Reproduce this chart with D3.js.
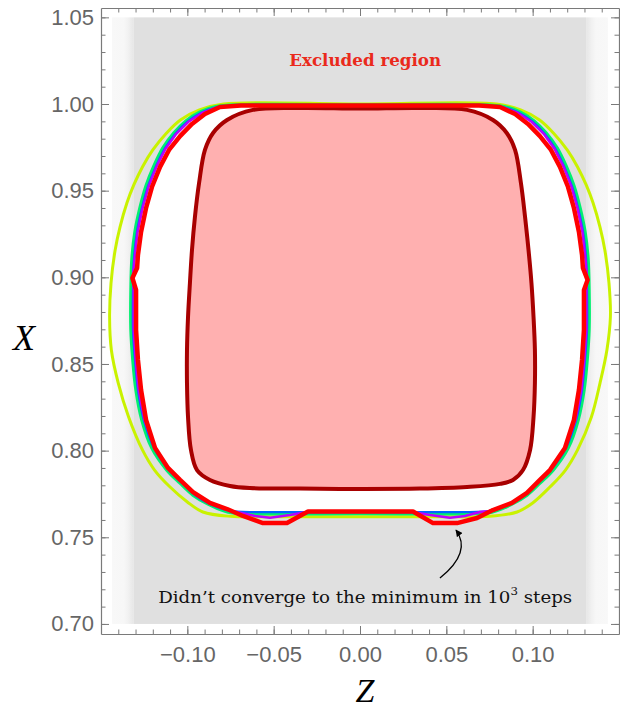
<!DOCTYPE html>
<html>
<head>
<meta charset="utf-8">
<script src="https://cdn.jsdelivr.net/npm/d3@7"></script>
<style>
  body { margin: 0; background: #fff; }
  svg { display: block; }
</style>
</head>
<body>
<div id="chart"></div>
<script>
// axis ticks
const zTicks = [-0.10, -0.05, 0.00, 0.05, 0.10];
const xTicks = [0.70, 0.75, 0.80, 0.85, 0.90, 0.95, 1.00, 1.05];
const zMinor = d3.range(-14, 15).map(d => d / 100);
const xMinor = d3.range(70, 106).map(d => d / 100);

// excluded (gray) band and its soft edges
const excludedZ = [-0.131, 0.131];
const excludedX = [0.70, 1.05];
const fadeZ = [-0.1436, 0.1436];

// boundary curves, [Z, X]
const yellowCurve = [[-0.079,1.000],[0,1.000],[0.079,1.000],[0.093,0.9966],[0.104,0.9908],[0.112,0.9833],[0.120,0.9735],[0.126,0.9637],[0.131,0.9533],[0.135,0.9429],[0.139,0.9290],[0.1418,0.9158],[0.1442,0.8967],[0.145,0.8771],[0.143,0.8581],[0.139,0.8390],[0.134,0.8194],[0.126,0.8004],[0.119,0.7888],[0.110,0.7790],[0.100,0.7698],[0.091,0.7646],[0.075,0.7621],[0.046,0.7619],[0,0.7619],[-0.046,0.7619],[-0.075,0.7621],[-0.091,0.7646],[-0.100,0.7704],[-0.110,0.7790],[-0.119,0.7888],[-0.126,0.8004],[-0.134,0.8194],[-0.140,0.8390],[-0.144,0.8581],[-0.145,0.8771],[-0.1442,0.8967],[-0.1418,0.9158],[-0.139,0.9290],[-0.135,0.9429],[-0.131,0.9533],[-0.126,0.9637],[-0.120,0.9735],[-0.112,0.9833],[-0.104,0.9908],[-0.093,0.9966]];

const greenCurve = [[-0.0695,0.9995],[0,0.9995],[0.0695,0.9995],[0.0840,0.9983],[0.0927,0.9954],[0.1008,0.9902],[0.1077,0.9833],[0.1141,0.9746],[0.1193,0.9642],[0.1239,0.9527],[0.1274,0.9400],[0.1303,0.9262],[0.1320,0.9112],[0.1326,0.8927],[0.1326,0.8696],[0.1315,0.8523],[0.1297,0.8350],[0.1263,0.8177],[0.1205,0.8015],[0.1118,0.7888],[0.1042,0.7813],[0.0967,0.7744],[0.0880,0.7692],[0.0764,0.7646],[0.0637,0.7637],[0,0.7637],[-0.0637,0.7637],[-0.0764,0.7646],[-0.0880,0.7692],[-0.0967,0.7744],[-0.1042,0.7813],[-0.1118,0.7888],[-0.1205,0.8015],[-0.1263,0.8177],[-0.1297,0.8350],[-0.1315,0.8523],[-0.1326,0.8696],[-0.1326,0.8927],[-0.1320,0.9112],[-0.1303,0.9262],[-0.1274,0.9400],[-0.1239,0.9527],[-0.1193,0.9642],[-0.1141,0.9746],[-0.1077,0.9833],[-0.1008,0.9902],[-0.0927,0.9954],[-0.0840,0.9983]];

const blueCurve = [[-0.069,0.9993],[0,0.9993],[0.069,0.9993],[0.0835,0.9980],[0.0920,0.9950],[0.1000,0.9898],[0.1068,0.9830],[0.1130,0.9744],[0.1182,0.9640],[0.1228,0.9525],[0.1263,0.9400],[0.1292,0.9262],[0.1309,0.9112],[0.1315,0.8927],[0.1315,0.8696],[0.1303,0.8523],[0.1286,0.8350],[0.1252,0.8177],[0.1193,0.8015],[0.1106,0.7888],[0.1030,0.7813],[0.0956,0.7744],[0.0869,0.7692],[0.0753,0.7652],[0.0637,0.7646],[0,0.7646],[-0.0637,0.7646],[-0.0753,0.7652],[-0.0869,0.7692],[-0.0956,0.7744],[-0.1030,0.7813],[-0.1106,0.7888],[-0.1193,0.8015],[-0.1252,0.8177],[-0.1286,0.8350],[-0.1303,0.8523],[-0.1315,0.8696],[-0.1315,0.8927],[-0.1309,0.9112],[-0.1292,0.9262],[-0.1263,0.9400],[-0.1228,0.9525],[-0.1182,0.9640],[-0.1130,0.9744],[-0.1068,0.9830],[-0.1000,0.9898],[-0.0920,0.9950],[-0.0835,0.9980]];

const purpleCurve = [[-0.069,0.9992],[0,0.9992],[0.069,0.9992],[0.0830,0.9980],[0.0915,0.9948],[0.0995,0.9896],[0.1064,0.9828],[0.1126,0.9742],[0.1178,0.9640],[0.1224,0.9524],[0.1259,0.9400],[0.1288,0.9262],[0.1305,0.9112],[0.1316,0.8990],[0.1311,0.8927],[0.1311,0.8696],[0.1299,0.8523],[0.1282,0.8350],[0.1248,0.8177],[0.1189,0.8015],[0.1102,0.7888],[0.1026,0.7813],[0.0952,0.7744],[0.0865,0.7692],[0.0750,0.7652],[0.0695,0.7646],[0.0608,0.7623],[0.0521,0.7613],[0.0405,0.7629],[0.0307,0.7646],[-0.0307,0.7646],[-0.0405,0.7629],[-0.0521,0.7613],[-0.0608,0.7623],[-0.0712,0.7646],[-0.0750,0.7652],[-0.0865,0.7692],[-0.0952,0.7744],[-0.1026,0.7813],[-0.1102,0.7888],[-0.1189,0.8015],[-0.1248,0.8177],[-0.1282,0.8350],[-0.1299,0.8523],[-0.1311,0.8696],[-0.1311,0.8927],[-0.1316,0.8996],[-0.1305,0.9112],[-0.1288,0.9262],[-0.1259,0.9400],[-0.1224,0.9524],[-0.1178,0.9640],[-0.1126,0.9742],[-0.1064,0.9828],[-0.0995,0.9896],[-0.0915,0.9948],[-0.0830,0.9980]];

const redCurve = [[-0.069,0.9991],[0,0.9991],[0.069,0.9991],[0.0811,0.9983],[0.0898,0.9942],[0.0973,0.9885],[0.1042,0.9815],[0.1106,0.9735],[0.1158,0.9637],[0.1205,0.9521],[0.1239,0.9400],[0.1268,0.9262],[0.1286,0.9129],[0.1291,0.9054],[0.1318,0.8985],[0.1297,0.8927],[0.1297,0.8696],[0.1286,0.8523],[0.1268,0.8350],[0.1239,0.8177],[0.1187,0.8015],[0.1100,0.7888],[0.1042,0.7831],[0.0967,0.7756],[0.0880,0.7698],[0.0770,0.7657],[0.0678,0.7611],[0.0562,0.7582],[0.0423,0.7582],[0.0307,0.7649],[-0.0301,0.7649],[-0.0423,0.7582],[-0.0562,0.7582],[-0.0678,0.7623],[-0.0770,0.7663],[-0.0869,0.7698],[-0.0967,0.7761],[-0.1042,0.7831],[-0.1112,0.7900],[-0.1187,0.8015],[-0.1239,0.8177],[-0.1268,0.8350],[-0.1286,0.8523],[-0.1297,0.8696],[-0.1297,0.8927],[-0.1318,0.8996],[-0.1291,0.9054],[-0.1286,0.9129],[-0.1268,0.9262],[-0.1239,0.9400],[-0.1205,0.9521],[-0.1158,0.9637],[-0.1106,0.9735],[-0.1042,0.9815],[-0.0973,0.9885],[-0.0898,0.9942],[-0.0811,0.9983]];

const darkRedCurve = [[-0.035,0.9977],[0,0.9974],[0.035,0.9977],[0.062,0.9966],[0.077,0.9908],[0.085,0.9833],[0.0898,0.9735],[0.0932,0.9544],[0.0956,0.9348],[0.0976,0.9158],[0.0993,0.8967],[0.1005,0.8771],[0.1013,0.8581],[0.1013,0.8390],[0.1005,0.8194],[0.0985,0.8004],[0.0944,0.7888],[0.0886,0.7831],[0.0811,0.7808],[0.0620,0.7790],[0.0347,0.7781],[0,0.7779],[-0.0347,0.7781],[-0.0637,0.7784],[-0.0753,0.7796],[-0.0869,0.7831],[-0.0944,0.7888],[-0.0979,0.8004],[-0.0996,0.8194],[-0.1002,0.8390],[-0.1002,0.8581],[-0.0996,0.8771],[-0.0985,0.8967],[-0.0973,0.9158],[-0.0956,0.9348],[-0.0932,0.9544],[-0.0898,0.9735],[-0.0851,0.9833],[-0.0770,0.9908],[-0.0620,0.9966]];

// annotation anchors, [Z, X]
const excludedLabel = [0.003, 1.0219];
const noteLabel = [0.003, 0.7121];
const arrowPath = [[0.0463, 0.7265], [0.0649, 0.7415], [0.0556, 0.7542]];

const W = 620, H = 709;
const margin = {top: 8, right: 1, bottom: 75, left: 101},
      width = W - margin.left - margin.right,
      height = H - margin.top - margin.bottom;

const svg = d3.select("#chart").append("svg")
    .attr("width", W)
    .attr("height", H);

const defs = svg.append("defs");
const fadeL = defs.append("linearGradient").attr("id", "fadeL")
    .attr("x1", "100%").attr("x2", "0%");
const fadeR = defs.append("linearGradient").attr("id", "fadeR")
    .attr("x1", "0%").attr("x2", "100%");
[fadeL, fadeR].forEach(g => {
  g.append("stop").attr("offset", "0%").attr("stop-color", "#e6e6e6");
  g.append("stop").attr("offset", "25%").attr("stop-color", "#f1f1f1");
  g.append("stop").attr("offset", "45%").attr("stop-color", "#f7f7f7");
  g.append("stop").attr("offset", "100%").attr("stop-color", "#f8f8f8");
});
defs.append("marker")
    .attr("id", "head")
    .attr("viewBox", "0 0 10 10")
    .attr("refX", 9).attr("refY", 5)
    .attr("markerWidth", 7).attr("markerHeight", 7)
    .attr("markerUnits", "userSpaceOnUse")
    .attr("orient", "auto")
  .append("path")
    .attr("d", "M0,0L10,5L0,10z")
    .attr("fill", "#000");

const g = svg.append("g")
    .attr("transform", `translate(${margin.left},${margin.top})`);

const x = d3.scaleLinear().domain([-0.15, 0.15]).range([0, width]);
const y = d3.scaleLinear().domain([0.6942, 1.0554]).range([height, 0]);

// excluded region
g.append("rect")
    .attr("x", x(fadeZ[0])).attr("width", x(excludedZ[0]) - x(fadeZ[0]))
    .attr("y", y(excludedX[1])).attr("height", y(excludedX[0]) - y(excludedX[1]))
    .attr("fill", "url(#fadeL)");
g.append("rect")
    .attr("x", x(excludedZ[1])).attr("width", x(fadeZ[1]) - x(excludedZ[1]))
    .attr("y", y(excludedX[1])).attr("height", y(excludedX[0]) - y(excludedX[1]))
    .attr("fill", "url(#fadeR)");
g.append("rect")
    .attr("x", x(excludedZ[0])).attr("width", x(excludedZ[1]) - x(excludedZ[0]))
    .attr("y", y(excludedX[1])).attr("height", y(excludedX[0]) - y(excludedX[1]))
    .attr("fill", "#e0e0e0");

const smooth = d3.line()
    .x(d => x(d[0])).y(d => y(d[1]))
    .curve(d3.curveCatmullRomClosed.alpha(0.5));
const poly = d3.line()
    .x(d => x(d[0])).y(d => y(d[1]))
    .curve(d3.curveLinearClosed);

// allowed region
g.append("path").attr("d", smooth(greenCurve)).attr("fill", "#fff");

// inner curve
g.append("path").attr("d", smooth(darkRedCurve))
    .attr("fill", "#ffb0b0")
    .attr("stroke", "#a80000")
    .attr("stroke-width", 4);

const bounds = [
  {pts: yellowCurve, gen: smooth, color: "#c9f200", w: 3},
  {pts: greenCurve,  gen: smooth, color: "#00f070", w: 3.5},
  {pts: blueCurve,   gen: smooth, color: "#0066ff", w: 2.2},
  {pts: purpleCurve, gen: poly,   color: "#bb00ff", w: 2.5},
  {pts: redCurve,    gen: poly,   color: "#ff0000", w: 4.5}
];
bounds.forEach(b => {
  g.append("path")
      .attr("d", b.gen(b.pts))
      .attr("fill", "none")
      .attr("stroke", b.color)
      .attr("stroke-width", b.w)
      .attr("stroke-linejoin", "round");
});

// annotations
g.append("text")
    .attr("x", x(excludedLabel[0])).attr("y", y(excludedLabel[1]))
    .attr("text-anchor", "middle")
    .attr("font-family", "DejaVu Serif, serif")
    .attr("font-size", 16)
    .attr("font-weight", "bold")
    .attr("fill", "#ea2a1c")
    .attr("textLength", 152).attr("lengthAdjust", "spacingAndGlyphs")
    .text("Excluded region");

const note = g.append("text")
    .attr("x", x(noteLabel[0])).attr("y", y(noteLabel[1]))
    .attr("text-anchor", "middle")
    .attr("font-family", "DejaVu Serif, serif")
    .attr("font-size", 17)
    .attr("fill", "#111")
    .attr("textLength", 414).attr("lengthAdjust", "spacingAndGlyphs");
note.append("tspan").text("Didn\u2019t converge to the minimum in 10");
note.append("tspan").attr("dy", -8).attr("font-size", 11).text("3");
note.append("tspan").attr("dy", 8).text(" steps");

g.append("path")
    .attr("d", `M${x(arrowPath[0][0])},${y(arrowPath[0][1])}Q${x(arrowPath[1][0])},${y(arrowPath[1][1])} ${x(arrowPath[2][0])},${y(arrowPath[2][1])}`)
    .attr("fill", "none")
    .attr("stroke", "#000")
    .attr("stroke-width", 1.3)
    .attr("marker-end", "url(#head)");

// frame and ticks
const fmt = d3.format(".2f");
const axes = [
  {axis: d3.axisBottom(x), at: `translate(0,${height})`, major: zTicks, minor: zMinor, labels: true, pad: 12},
  {axis: d3.axisTop(x),    at: "translate(0,0)",         major: zTicks, minor: zMinor, labels: false},
  {axis: d3.axisLeft(y),   at: "translate(0,0)",         major: xTicks, minor: xMinor, labels: true, pad: 7},
  {axis: d3.axisRight(y),  at: `translate(${width},0)`,  major: xTicks, minor: xMinor, labels: false}
];
axes.forEach(a => {
  const minorG = g.append("g").attr("transform", a.at)
      .call(a.axis.tickValues(a.minor).tickSizeInner(-4.5).tickSizeOuter(0).tickFormat(""));
  minorG.select(".domain").remove();
  const majorG = g.append("g").attr("transform", a.at)
      .call(a.axis.tickValues(a.major).tickSizeInner(-8).tickSizeOuter(0)
        .tickPadding(a.pad || 3).tickFormat(a.labels ? fmt : ""));
  [minorG, majorG].forEach(s => {
    s.selectAll("line").attr("stroke", "#7a7a7a");
    s.select(".domain").attr("stroke", "#7a7a7a").attr("stroke-width", 1.2);
  });
  majorG.selectAll("text")
      .attr("fill", "#666")
      .attr("font-family", "Liberation Sans, Arial, sans-serif")
      .attr("font-size", 22);
});

// axis titles
svg.append("text")
    .attr("x", 24).attr("y", 350)
    .attr("text-anchor", "middle")
    .attr("font-family", "Liberation Serif, serif")
    .attr("font-style", "italic")
    .attr("font-size", 36)
    .attr("fill", "#000")
    .text("X");
svg.append("text")
    .attr("x", 365).attr("y", 702)
    .attr("text-anchor", "middle")
    .attr("font-family", "Liberation Serif, serif")
    .attr("font-style", "italic")
    .attr("font-size", 34)
    .attr("fill", "#000")
    .text("Z");
</script>
</body>
</html>
